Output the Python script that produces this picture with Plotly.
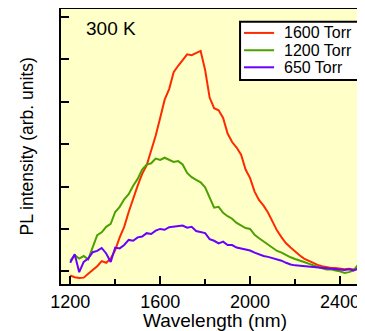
import plotly.graph_objects as go

wavelength = list(range(1200, 2501, 20))

i_1600 = [-0.10, -0.14, -0.16, -0.15, -0.06, 0.02, 0.12, 0.24, 0.20, 0.30,
          0.50, 0.80, 1.05, 1.40, 1.72, 2.02, 2.30, 2.50, 2.85, 3.20,
          3.62, 4.05, 4.30, 4.70, 4.85, 5.00, 5.12, 5.10, 5.16, 5.20,
          4.75, 4.10, 3.85, 3.80, 3.62, 3.25, 3.05, 2.92, 2.75, 2.40,
          2.20, 1.88, 1.68, 1.55, 1.38, 1.15, 0.96, 0.80, 0.66, 0.56,
          0.46, 0.38, 0.30, 0.25, 0.19, 0.15, 0.12, 0.10, 0.08, 0.08,
          0.06, 0.05, 0.06, 0.04, 0.06, 0.08]

i_1200 = [0.25, 0.38, 0.30, 0.36, 0.28, 0.56, 0.85, 0.92, 1.05, 1.12,
          1.40, 1.52, 1.70, 1.82, 2.02, 2.18, 2.40, 2.52, 2.55, 2.66,
          2.63, 2.68, 2.62, 2.58, 2.60, 2.52, 2.32, 2.22, 2.16, 2.10,
          1.98, 1.75, 1.50, 1.52, 1.38, 1.30, 1.24, 1.14, 1.08, 1.02,
          1.00, 0.86, 0.78, 0.70, 0.62, 0.54, 0.48, 0.44, 0.38, 0.33,
          0.29, 0.26, 0.22, 0.18, 0.14, 0.11, 0.07, 0.04, 0.05, 0.02,
          0.00, -0.04, -0.02, 0.02, 0.15, 0.06]

i_650 = [0.20, 0.40, -0.02, 0.22, 0.30, 0.45, 0.48, 0.55, 0.42, 0.22,
         0.56, 0.54, 0.62, 0.74, 0.72, 0.80, 0.82, 0.90, 0.88, 0.96,
         1.00, 0.98, 1.04, 1.05, 1.06, 1.08, 1.03, 1.05, 0.95, 0.93,
         0.90, 0.76, 0.72, 0.66, 0.70, 0.62, 0.62, 0.56, 0.54, 0.52,
         0.49, 0.44, 0.40, 0.36, 0.34, 0.31, 0.28, 0.25, 0.20, 0.16,
         0.14, 0.13, 0.12, 0.11, 0.10, 0.09, 0.08, 0.07, 0.06, 0.05,
         0.04, 0.03, 0.05, 0.02, 0.06, 0.08]

series_names = ["1600 Torr", "1200 Torr", "650 Torr"]
series_colors = ["#FF2A00", "#4CA000", "#6A00FF"]
series_values = [i_1600, i_1200, i_650]

x_ticks = [1200, 1600, 2000, 2400]
x_minor_ticks = [1400, 1800, 2200]
y_ticks = [0, 1, 2, 3, 4, 5, 6]

FONT = "Liberation Sans, Arial, sans-serif"

fig = go.Figure()
for name, color, vals in zip(series_names, series_colors, series_values):
    fig.add_trace(go.Scatter(x=wavelength, y=vals, mode="lines", name=name,
                             line=dict(color=color, width=2)))

# Legend drawn as a boxed key in the upper-right of the plot
legend_rows_y = [0.913, 0.850, 0.788]
shapes = [dict(type="rect", xref="paper", yref="paper",
               x0=0.589, x1=0.99, y0=0.742, y1=0.954,
               fillcolor="white", line=dict(color="black", width=2), layer="above")]
annotations = []
for name, color, ry in zip(series_names, series_colors, legend_rows_y):
    shapes.append(dict(type="line", xref="paper", yref="paper",
                       x0=0.602, x1=0.701, y0=ry, y1=ry,
                       line=dict(color=color, width=2), layer="above"))
    annotations.append(dict(text=name, xref="paper", yref="paper",
                            x=0.727, y=ry, xanchor="left", yanchor="middle",
                            showarrow=False, font=dict(size=16, family=FONT)))

annotations += [
    dict(text="300 K", xref="paper", yref="paper", x=0.075, y=0.975,
         xanchor="left", yanchor="top", showarrow=False,
         font=dict(size=19, family=FONT)),
    dict(text="PL intensity (arb. units)", xref="paper", yref="paper",
         x=0, y=0.5, xanchor="center", yanchor="middle", xshift=-35,
         textangle=-90, showarrow=False, font=dict(size=17.5, family=FONT)),
    dict(text="Wavelength (nm)", xref="paper", yref="paper",
         x=0.507, y=0, xanchor="center", yanchor="middle", yshift=-36,
         showarrow=False, font=dict(size=19, family=FONT)),
]

fig.update_layout(
    width=357, height=323,
    margin=dict(l=53, r=0, t=1, b=47),
    paper_bgcolor="white",
    plot_bgcolor="#FFFFC8",
    font=dict(family=FONT, color="black"),
    showlegend=False,
    shapes=shapes,
    annotations=annotations,
    xaxis=dict(range=[1159, 2511], tickvals=x_ticks, ticks="inside",
               ticklen=8, tickwidth=2, tickcolor="black",
               showline=True, linewidth=2, linecolor="black", mirror=True,
               showgrid=False, zeroline=False,
               tickfont=dict(size=18, family=FONT),
               minor=dict(tickvals=x_minor_ticks, ticks="inside",
                          ticklen=5, tickwidth=2, tickcolor="black")),
    yaxis=dict(range=[-0.30, 6.19], tickvals=y_ticks, ticks="inside",
               ticklen=8, tickwidth=2, tickcolor="black",
               showticklabels=False,
               showline=True, linewidth=2, linecolor="black",
               showgrid=False, zeroline=False),
)

fig.write_html("out.html")
